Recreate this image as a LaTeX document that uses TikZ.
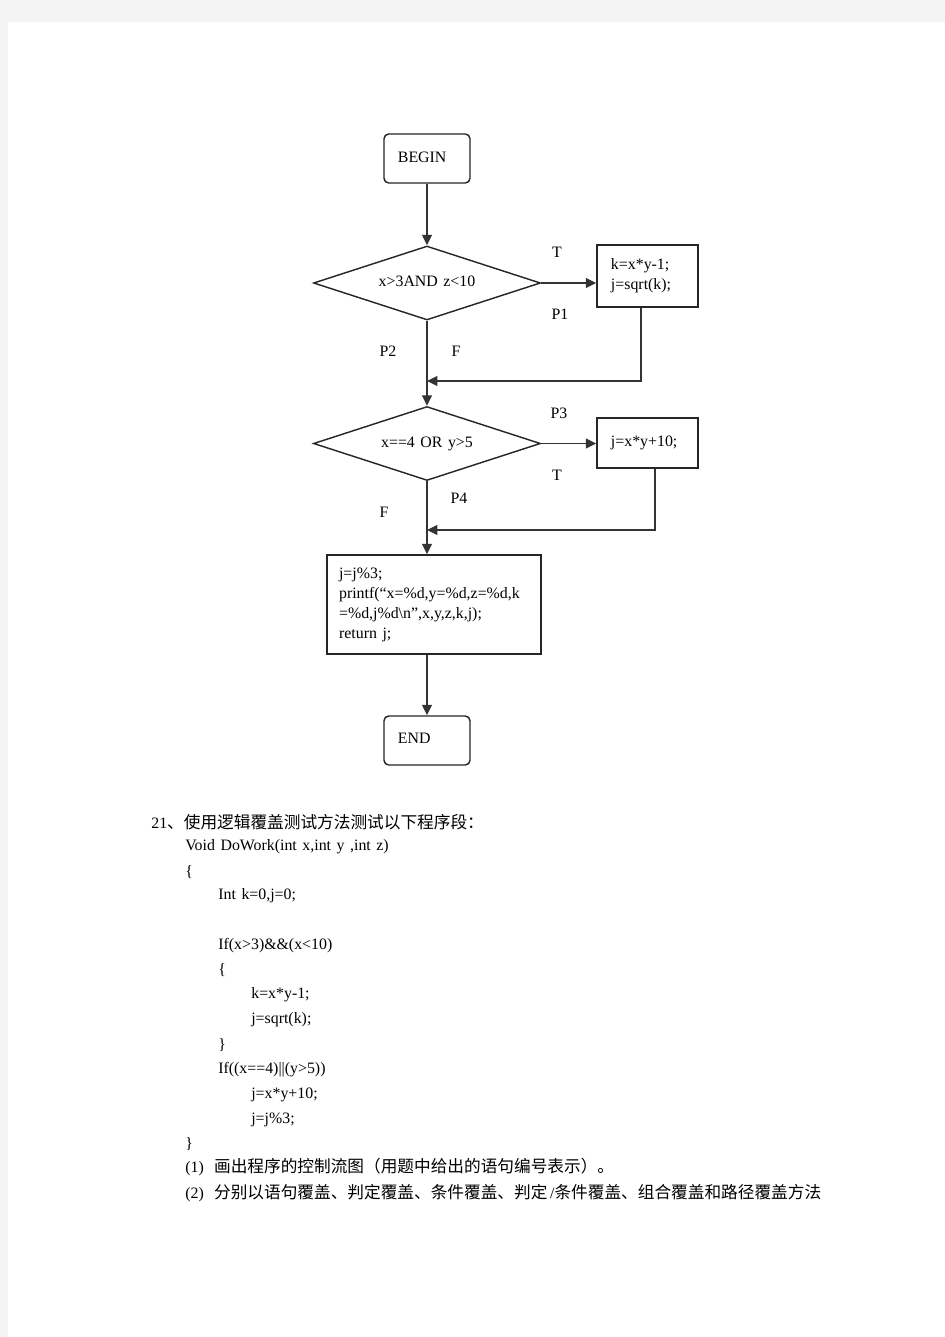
\documentclass[tikz,border=0pt]{standalone}
\usepackage{fontspec}
\setmainfont{Liberation Serif}
\newfontfamily\cjk[Scale=1.05]{Noto Sans CJK SC}
\usetikzlibrary{shapes.geometric,arrows.meta}
\definecolor{pagegrey}{HTML}{F4F4F4}
\definecolor{linegrey}{HTML}{333333}
\newcommand{\wsp}{\hspace{0.35em}}

\begin{document}
\begin{tikzpicture}[x=0.63pt,y=-0.63pt,font=\fontsize{10}{12.6}\selectfont,
  term/.style={draw=black!85,line width=0.9pt,rounded corners=3pt,minimum height=30.9pt,text width=36.6pt,inner xsep=8.8pt,align=left},
  test/.style={draw=black!85,line width=0.9pt,diamond,aspect=3.07,minimum width=143pt,minimum height=46.6pt,inner sep=0pt},
  stmt/.style={draw=black!85,line width=0.9pt,rectangle,inner xsep=8.8pt,align=left},
  flow/.style={draw=linegrey,line width=1.2pt,-{Triangle[length=6.5pt,width=6pt]}},
  branchlabel/.style={inner sep=0pt},
  code/.style={anchor=west,inner sep=0pt}]
\useasboundingbox (0,0) rectangle (945,1337);
\fill[pagegrey] (0,0) rectangle (945,1337);
\fill[white] (8,22) rectangle (945,1337);

% flow chart
\node[term] (begin) at (427,158.5) {BEGIN\vphantom{Eg}\\[-2pt]};
\node[test] (d1) at (427,283) {\raisebox{2pt}{x>3AND\wsp z<10}\hspace{5pt}};
\node[stmt,text width=46pt,minimum height=39.1pt] (b1) at (647.5,276) {k=x*y-1;\\j=sqrt(k);\\[4pt]};
\node[test] (d2) at (427,443.5) {\raisebox{2pt}{x==4\wsp OR\wsp y>5}\hspace{5pt}};
\node[stmt,text width=46pt,minimum height=31.5pt] (b2) at (647.5,443) {j=x*y+10;\\[4pt]};
\node[stmt,inner xsep=7.6pt,text width=119.6pt,minimum height=62.4pt] (b3) at (434,604.5)
  {j=j\%3;\\printf(“x=\%d,y=\%d,z=\%d,k\\=\%d,j\%d\textbackslash n”,x,y,z,k,j);\\return\wsp j;\\[3pt]};
\node[term] (end) at (427,740.5) {END\vphantom{Eg}\\[-2pt]};

\coordinate (j1) at (427,381);
\coordinate (j2) at (427,530);

\path[flow] (begin) -- (d1);
\path[flow] (d1.east) -- (d1.east -| b1.west);
\path[flow] ([xshift=-4.1pt]b1.south) |- (j1);
\path[flow] (d1.south) -- (d2.north);
\path[flow] (d2.east) -- (d2.east -| b2.west);
\path[flow] ([xshift=4.7pt]b2.south) |- (j2);
\path[flow] (d2.south) -- (d2.south |- b3.north);
\path[flow] (b3.south -| end.north) -- (end.north);

% branch labels
\node[branchlabel] (t1) at (557,252) {T};
\node[branchlabel] (p1) at (560,314) {P1};
\node[branchlabel] (p2) at (388,351) {P2};
\node[branchlabel] (f1) at (456,351) {F};
\node[branchlabel] (p3) at (559,413) {P3};
\node[branchlabel] (t2) at (557,475) {T};
\node[branchlabel] (p4) at (459,498) {P4};
\node[branchlabel] (f2) at (384,512) {F};

% question text
\node[code] (q) at (151,822) {21{\cjk 、使用逻辑覆盖测试方法测试以下程序段：}};
\node[code] (c1) at (185,847) {Void\wsp DoWork(int\wsp x,int\wsp y\wsp ,int\wsp z)};
\node[code] (c2) at (185,872) {\{};
\node[code] (c3) at (218,896) {Int\wsp k=0,j=0;};
\node[code] (c4) at (218,946) {If(x>3)\&\&(x<10)};
\node[code] (c5) at (218,970) {\{};
\node[code] (c6) at (251,995) {k=x*y-1;};
\node[code] (c7) at (251,1020) {j=sqrt(k);};
\node[code] (c8) at (218,1045) {\}};
\node[code] (c9) at (218,1070) {If((x==4)||(y>5))};
\node[code] (c10) at (251,1095) {j=x*y+10;};
\node[code] (c11) at (251,1120) {j=j\%3;};
\node[code] (c12) at (185,1144) {\}};
\node[code] (a1) at (185,1167) {(1)\hspace{0.65em}{\cjk 画出程序的控制流图（用题中给出的语句编号表示）。}};
\node[code] (a2) at (185,1193) {(2)\hspace{0.65em}{\cjk 分别以语句覆盖、判定覆盖、条件覆盖、判定}\,/{\cjk 条件覆盖、组合覆盖和路径覆盖方法}};
\end{tikzpicture}
\end{document}
